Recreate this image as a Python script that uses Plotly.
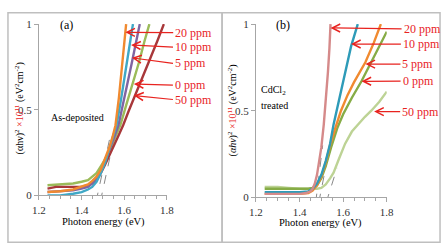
import plotly.graph_objects as go

W, H = 448, 251

# ---------------- data: panel (a) As-deposited ----------------
a_orange_x = [1.24, 1.30, 1.36, 1.40, 1.43, 1.45, 1.47, 1.49, 1.51, 1.53, 1.545, 1.559, 1.575, 1.592, 1.609]
a_orange_y = [0.02, 0.025, 0.035, 0.05, 0.065, 0.085, 0.11, 0.15, 0.21, 0.28, 0.34, 0.41, 0.57, 0.78, 1.00]
a_teal_x = [1.24, 1.30, 1.36, 1.40, 1.43, 1.45, 1.47, 1.49, 1.51, 1.53, 1.547, 1.564, 1.585, 1.61, 1.641]
a_teal_y = [0.00, 0.00, 0.01, 0.02, 0.035, 0.05, 0.08, 0.13, 0.19, 0.27, 0.34, 0.41, 0.56, 0.75, 1.00]
a_purple_x = [1.24, 1.30, 1.36, 1.40, 1.43, 1.45, 1.47, 1.49, 1.51, 1.53, 1.55, 1.573, 1.60, 1.635, 1.673]
a_purple_y = [0.02, 0.025, 0.03, 0.04, 0.05, 0.07, 0.10, 0.14, 0.20, 0.27, 0.33, 0.41, 0.56, 0.77, 1.00]
a_green_x = [1.24, 1.30, 1.36, 1.40, 1.43, 1.45, 1.47, 1.49, 1.51, 1.53, 1.555, 1.582, 1.61, 1.64, 1.67, 1.695, 1.718]
a_green_y = [0.06, 0.065, 0.07, 0.08, 0.09, 0.11, 0.13, 0.17, 0.21, 0.26, 0.33, 0.41, 0.53, 0.65, 0.78, 0.90, 1.00]
a_red_x = [1.24, 1.28, 1.32, 1.36, 1.40, 1.43, 1.45, 1.47, 1.49, 1.51, 1.53, 1.555, 1.575, 1.595, 1.62, 1.65, 1.685, 1.72, 1.755, 1.786]
a_red_y = [0.04, 0.05, 0.05, 0.05, 0.05, 0.06, 0.07, 0.09, 0.13, 0.18, 0.23, 0.30, 0.355, 0.41, 0.49, 0.58, 0.69, 0.80, 0.90, 1.00]
a_dash1_x = [1.468, 1.535]
a_dash1_y = [-0.035, 0.35]
a_dash2_x = [1.488, 1.555]
a_dash2_y = [-0.035, 0.35]

# ---------------- data: panel (b) CdCl2 treated ----------------
b_pink_x = [1.24, 1.32, 1.40, 1.43, 1.45, 1.46, 1.47, 1.48, 1.49, 1.50, 1.511, 1.52, 1.53, 1.537, 1.542]
b_pink_y = [0.02, 0.02, 0.02, 0.025, 0.035, 0.05, 0.08, 0.13, 0.20, 0.29, 0.42, 0.55, 0.72, 0.86, 1.00]
b_teal_x = [1.24, 1.32, 1.40, 1.44, 1.46, 1.48, 1.50, 1.52, 1.54, 1.556, 1.58, 1.61, 1.636, 1.667]
b_teal_y = [0.03, 0.03, 0.03, 0.035, 0.05, 0.08, 0.13, 0.21, 0.31, 0.42, 0.56, 0.73, 0.87, 1.00]
b_orange_x = [1.24, 1.32, 1.40, 1.44, 1.46, 1.48, 1.50, 1.52, 1.54, 1.564, 1.59, 1.62, 1.65, 1.702, 1.74, 1.773]
b_orange_y = [0.02, 0.02, 0.02, 0.025, 0.04, 0.07, 0.12, 0.20, 0.30, 0.40, 0.50, 0.59, 0.665, 0.78, 0.89, 1.00]
b_green_x = [1.24, 1.32, 1.40, 1.44, 1.46, 1.48, 1.50, 1.52, 1.545, 1.573, 1.60, 1.64, 1.684, 1.74, 1.80]
b_green_y = [0.05, 0.05, 0.05, 0.05, 0.055, 0.07, 0.11, 0.18, 0.29, 0.40, 0.48, 0.575, 0.67, 0.81, 0.956]
b_lgreen_x = [1.24, 1.30, 1.35, 1.40, 1.45, 1.48, 1.50, 1.52, 1.54, 1.556, 1.58, 1.609, 1.64, 1.667, 1.70, 1.729, 1.765, 1.80]
b_lgreen_y = [0.06, 0.06, 0.055, 0.05, 0.05, 0.05, 0.055, 0.075, 0.11, 0.143, 0.22, 0.31, 0.38, 0.42, 0.465, 0.50, 0.55, 0.61]
b_dash1_x = [1.474, 1.506]
b_dash1_y = [-0.03, 0.30]
b_dash2_x = [1.488, 1.54]
b_dash2_y = [-0.03, 0.30]
b_dash3_x = [1.522, 1.572]
b_dash3_y = [-0.03, 0.17]

# labels
ppm_labels = ["20 ppm", "10 ppm", "5 ppm", "0 ppm", "50 ppm"]
a_arrow_x = [1.605, 1.632, 1.636, 1.645, 1.645]
a_arrow_y = [0.952, 0.878, 0.803, 0.650, 0.583]
b_arrow_x = [1.542, 1.636, 1.702, 1.684, 1.742]
b_arrow_y = [0.978, 0.885, 0.769, 0.670, 0.495]
x_ticks = [1.2, 1.4, 1.6, 1.8]
y_ticks = [0, 0.5, 1]

FONT = "Liberation Serif, Times New Roman, serif"
RED = "#E8231F"

fig = go.Figure()

def line(x, y, color, xa, ya, width=2.4, dash=None):
    fig.add_trace(go.Scatter(
        x=x, y=y, mode="lines", xaxis=xa, yaxis=ya, showlegend=False,
        line=dict(color=color, width=width, dash=dash),
        hoverinfo="skip"))

# panel a
line(a_dash1_x, a_dash1_y, "#888888", "x", "y", 1, "dash")
line(a_dash2_x, a_dash2_y, "#888888", "x", "y", 1, "dash")
line(a_green_x, a_green_y, "#9BBB59", "x", "y")
line(a_red_x, a_red_y, "#A8383A", "x", "y")
line(a_purple_x, a_purple_y, "#8064A2", "x", "y")
line(a_teal_x, a_teal_y, "#3FA8C6", "x", "y")
line(a_orange_x, a_orange_y, "#F08A30", "x", "y")

# panel b
line(b_dash1_x, b_dash1_y, "#888888", "x2", "y2", 1, "dash")
line(b_dash2_x, b_dash2_y, "#888888", "x2", "y2", 1, "dash")
line(b_dash3_x, b_dash3_y, "#888888", "x2", "y2", 1, "dash")
line(b_lgreen_x, b_lgreen_y, "#BDD395", "x2", "y2")
line(b_green_x, b_green_y, "#86AC46", "x2", "y2")
line(b_orange_x, b_orange_y, "#F08A30", "x2", "y2")
line(b_teal_x, b_teal_y, "#2E9BB8", "x2", "y2")
line(b_pink_x, b_pink_y, "#D58A8A", "x2", "y2")

def xpx(px):
    return px / W

def ypx(py):
    return 1 - py / H

axis_common = dict(
    showgrid=False, zeroline=False, showline=True, linecolor="#A6A6A6",
    linewidth=1, ticks="outside", ticklen=4, tickcolor="#A6A6A6",
    tickfont=dict(family=FONT, size=11, color="#333333"),
)

fig.update_layout(
    width=W, height=H, margin=dict(l=0, r=0, t=0, b=0),
    paper_bgcolor="white", plot_bgcolor="white",
    xaxis=dict(domain=[xpx(33), xpx(165)], range=[1.2, 1.8], tickvals=x_ticks,
               ticktext=[f"{v:.1f}" for v in x_ticks], anchor="y",
               minor=dict(dtick=0.05, ticks="outside", ticklen=3, tickcolor="#A6A6A6"),
               **axis_common),
    yaxis=dict(domain=[ypx(199), ypx(19)], range=[0, 1], tickvals=y_ticks,
               ticktext=["0", "0.5", "1"], anchor="x", **axis_common),
    xaxis2=dict(domain=[xpx(257), xpx(392)], range=[1.2, 1.8], tickvals=x_ticks,
                ticktext=[f"{v:.1f}" for v in x_ticks], anchor="y2",
                minor=dict(dtick=0.05, ticks="outside", ticklen=3, tickcolor="#A6A6A6"),
                **axis_common),
    yaxis2=dict(domain=[ypx(201), ypx(19)], range=[0, 1], tickvals=y_ticks,
                ticktext=["0", "0.5", "1"], anchor="x2", **axis_common),
)

# panel borders
for x0, x1 in [(1, 222), (222, 447)]:
    fig.add_shape(type="rect", xref="paper", yref="paper",
                  x0=xpx(x0), x1=xpx(x1), y0=ypx(248), y1=ypx(7),
                  line=dict(color="#BFBFBF", width=1.5), fillcolor="rgba(0,0,0,0)")

anns = []

def text(px, py, s, size=10, color="black", xanchor="center", angle=0):
    anns.append(dict(x=xpx(px), y=ypx(py), xref="paper", yref="paper", text=s,
                     showarrow=False, xanchor=xanchor, yanchor="middle",
                     textangle=angle, font=dict(family=FONT, size=size, color=color)))

# arrows with ppm labels (label sits at the arrow tail)
a_label_py = [28, 43, 60, 83, 98]
b_label_py = [24, 40, 61, 79, 111]
for i, lab in enumerate(ppm_labels):
    hx = 33 + (a_arrow_x[i] - 1.2) / 0.6 * 132
    hy = 199 - a_arrow_y[i] * 180
    anns.append(dict(x=a_arrow_x[i], y=a_arrow_y[i], xref="x", yref="y", text=lab,
                     showarrow=True, arrowhead=5, arrowsize=1.3, arrowwidth=1.2,
                     arrowcolor=RED, ax=170 - hx, ay=a_label_py[i] - hy, standoff=0,
                     xanchor="left", yanchor="middle", borderpad=1,
                     font=dict(family=FONT, size=12, color=RED)))
    hx = 257 + (b_arrow_x[i] - 1.2) / 0.6 * 135
    hy = 201 - b_arrow_y[i] * 182
    anns.append(dict(x=b_arrow_x[i], y=b_arrow_y[i], xref="x2", yref="y2", text=lab,
                     showarrow=True, arrowhead=5, arrowsize=1.3, arrowwidth=1.2,
                     arrowcolor=RED, ax=405 - hx, ay=b_label_py[i] - hy, standoff=0,
                     xanchor="left", yanchor="middle", borderpad=1,
                     font=dict(family=FONT, size=12, color=RED)))

text(61, 20, "(a)", 12)
text(285, 20, "(b)", 12)
text(43, 117, "As-deposited", 10, xanchor="left")
text(260, 89, "CdCl<sub>2</sub>", 10, xanchor="left")
text(260, 105, "treated", 10, xanchor="left")
text(100, 227, "Photon energy (eV)", 10.5)
text(324, 228, "Photon energy (eV)", 10.5)
text(13, 108, "(αhν)<sup>2</sup> <span style='color:#E8231F'>×10<sup>11</sup></span> (eV<sup>2</sup>cm<sup>-2</sup>)",
     10, angle=-90)
text(233, 110, "(<i>αhν</i>)<sup>2</sup> <span style='color:#E8231F'>×10<sup>11</sup></span> (eV<sup>2</sup>cm<sup>-2</sup>)",
     10, angle=-90)

fig.update_layout(annotations=anns)
fig.write_html("out.html", post_script="document.body.style.margin='0';")
